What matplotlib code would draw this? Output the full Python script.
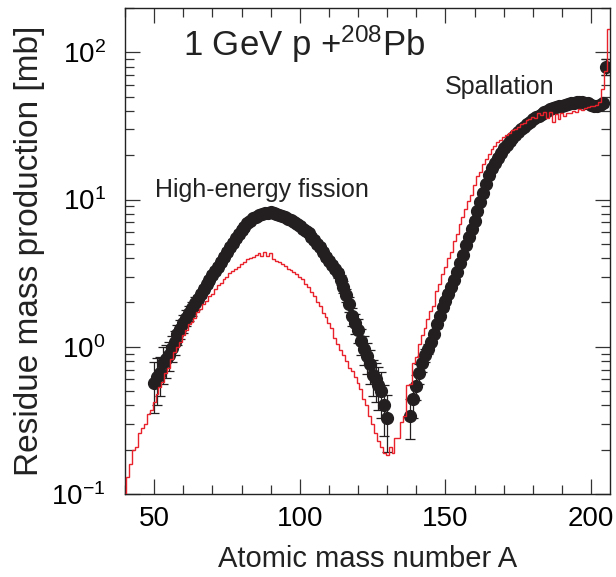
# -*- coding: utf-8 -*-
"""
Residue mass distribution, 1 GeV p + 208Pb
"""

import numpy as np
import matplotlib
matplotlib.use("Agg")
import matplotlib.pyplot as plt
from matplotlib.ticker import LogLocator, MultipleLocator, NullFormatter

plt.rcParams["font.family"] = ["Liberation Sans", "DejaVu Sans"]
plt.rcParams["mathtext.fontset"] = "custom"
plt.rcParams["mathtext.rm"] = "Liberation Sans"
plt.rcParams["mathtext.it"] = "Liberation Sans:italic"

# Model (red histogram), one bin per mass number, A = 40 ... 206
model_A0 = 40
model_y = [0.10, 0.13, 0.16, 0.20, 0.21, 0.26, 0.28, 0.30, 0.35, 0.37,
           0.42, 0.48, 0.53, 0.58, 0.66, 0.72, 0.83, 0.92, 1.00, 1.08,
           1.20, 1.30, 1.42, 1.48, 1.58, 1.72, 1.80, 1.95, 2.05, 2.20,
           2.30, 2.45, 2.62, 2.72, 2.90, 3.00, 3.15, 3.25, 3.40, 3.50,
           3.65, 3.75, 3.95, 4.00, 4.10, 4.20, 4.35, 4.15, 4.40, 4.15,
           4.35, 3.95, 3.85, 3.75, 3.65, 3.55, 3.40, 3.30, 3.20, 3.10,
           3.00, 2.90, 2.65, 2.55, 2.35, 2.20, 2.00, 1.90, 1.70, 1.60,
           1.45, 1.35, 1.15, 1.05, 0.95, 0.88, 0.80, 0.72, 0.68, 0.62,
           0.57, 0.52, 0.44, 0.40, 0.34, 0.30, 0.26, 0.23, 0.21, 0.19,
           0.185, 0.21, 0.19, 0.24, 0.24, 0.31, 0.34, 0.55, 0.56, 0.78,
           0.85, 1.05, 1.20, 1.35, 1.55, 1.75, 1.90, 2.40, 2.65, 3.10,
           3.50, 4.00, 4.40, 5.20, 5.80, 6.80, 7.60, 8.60, 9.80, 10.8,
           12.5, 14.5, 15.5, 17.5, 18.8, 20.5, 22.0, 23.2, 24.5, 25.5,
           26.5, 27.5, 28.5, 29.5, 30.0, 31.0, 32.5, 33.0, 34.5, 35.0,
           36.5, 36.0, 38.5, 37.5, 39.5, 36.0, 39.5, 33.5, 38.0, 35.0,
           38.5, 37.0, 38.5, 39.0, 40.0, 39.5, 41.0, 40.5, 42.0, 42.5,
           43.0, 43.5, 44.0, 46.0, 56.0, 75.0, 145.0]

# Data, fission region A = 50 ... 130
fis_A0 = 50
fis_y = [0.57, 0.62, 0.66, 0.78, 0.82, 0.88, 0.98, 1.08, 1.22, 1.32,
         1.45, 1.58, 1.70, 1.82, 1.97, 2.12, 2.28, 2.47, 2.65, 2.85,
         3.08, 3.28, 3.50, 3.78, 4.08, 4.40, 4.75, 5.10, 5.45, 5.85,
         6.20, 6.55, 6.90, 7.20, 7.45, 7.62, 7.80, 7.95, 8.05, 8.15,
         8.20, 8.10, 8.00, 7.90, 7.75, 7.60, 7.40, 7.25, 7.05, 6.85,
         6.60, 6.35, 6.10, 5.90, 5.60, 5.30, 5.00, 4.75, 4.40, 4.10,
         3.85, 3.60, 3.35, 3.15, 2.85, 2.55, 2.25, 1.95, 1.62, 1.45,
         1.30, 1.10, 0.97, 0.86, 0.76, 0.64, 0.60, 0.55, 0.50, 0.40,
         0.33]
fis_err = [0.38, 0.35, 0.30, 0.28, 0.25, 0.22, 0.20, 0.18, 0.16, 0.15,
           0.14, 0.13, 0.12, 0.11, 0.10, 0.06, 0.06, 0.06, 0.06, 0.06,
           0.06, 0.06, 0.06, 0.06, 0.06, 0.06, 0.06, 0.06, 0.06, 0.06,
           0.06, 0.06, 0.06, 0.06, 0.06, 0.06, 0.06, 0.06, 0.06, 0.06,
           0.06, 0.06, 0.06, 0.06, 0.06, 0.06, 0.06, 0.06, 0.06, 0.06,
           0.06, 0.06, 0.06, 0.06, 0.06, 0.06, 0.06, 0.06, 0.06, 0.06,
           0.06, 0.06, 0.06, 0.07, 0.08, 0.09, 0.10, 0.12, 0.14, 0.16,
           0.18, 0.20, 0.22, 0.24, 0.26, 0.28, 0.30, 0.32, 0.34, 0.38,
           0.42]

# Data, spallation region A = 138 ... 205
spa_A0 = 138
spa_y = [0.34, 0.44, 0.54, 0.66, 0.77, 0.88, 0.97, 1.08, 1.23, 1.42,
         1.62, 1.85, 2.05, 2.30, 2.55, 2.85, 3.20, 3.70, 4.20, 4.90,
         5.55, 6.30, 7.20, 8.30, 9.60, 11.0, 12.8, 14.6, 16.3, 17.8,
         19.3, 20.8, 22.3, 23.6, 24.8, 26.0, 27.3, 28.6, 30.0, 31.2,
         32.5, 33.8, 35.0, 36.2, 37.2, 38.2, 39.2, 40.2, 41.0, 41.8,
         42.5, 43.0, 43.5, 44.0, 44.5, 45.0, 45.5, 46.0, 46.2, 46.0,
         45.5, 45.0, 44.0, 43.5, 43.5, 44.0, 45.0, 80.0]
spa_err = [0.30, 0.25, 0.20, 0.15, 0.12, 0.10, 0.08] + [0.05] * 60 + [0.12]

model_edges = np.arange(len(model_y) + 1) + model_A0 - 0.5
fis_A = np.arange(len(fis_y)) + fis_A0
spa_A = np.arange(len(spa_y)) + spa_A0

fig = plt.figure(figsize=(6.16, 5.77), dpi=100)
ax = fig.add_axes([125 / 616, 83 / 577, 485 / 616, 486 / 577])

ax.stairs(model_y, model_edges, baseline=None, color="#e8212b", lw=1.0, zorder=3)

dot = "#231f20"
for A, y, e in [(fis_A, fis_y, fis_err), (spa_A, spa_y, spa_err)]:
    y = np.array(y)
    ax.errorbar(A, y, yerr=np.array(e) * y, fmt="o", ms=8.5, color=dot,
                ecolor=dot, elinewidth=0.9, capsize=3.5, capthick=0.9, zorder=2)

ax.set_yscale("log")
ax.set_xlim(40, 206.5)
ax.set_ylim(0.1, 200)

ax.xaxis.set_major_locator(MultipleLocator(50))
ax.xaxis.set_minor_locator(MultipleLocator(10))
ax.yaxis.set_major_locator(LogLocator(base=10))
ax.yaxis.set_minor_locator(LogLocator(base=10, subs=np.arange(2, 10)))
ax.yaxis.set_minor_formatter(NullFormatter())
ax.set_yticks([0.1, 1, 10, 100])
ax.set_yticklabels([r"$\mathregular{10^{-1}}$", r"$\mathregular{10^{0}}$",
                    r"$\mathregular{10^{1}}$", r"$\mathregular{10^{2}}$"])

ax.tick_params(which="both", direction="in", top=True, right=True,
               color="#333333", width=0.9)
ax.tick_params(which="major", length=11, labelsize=20)
ax.tick_params(axis="x", which="major", pad=9)
ax.tick_params(axis="y", which="major", pad=14)
ax.tick_params(which="minor", length=6.5)
for s in ax.spines.values():
    s.set_linewidth(1.0)
    s.set_color("#222222")

ax.set_xlabel("Atomic mass number A", fontsize=21, color="#222222")
ax.set_ylabel("Residue mass production [mb]", fontsize=24, color="#222222")
ax.xaxis.set_label_coords(0.5, -0.105)
ax.yaxis.set_label_coords(-0.165, 0.5)

ax.text(59.8, 114, r"1 GeV p +$\mathregular{^{208}}$Pb", fontsize=25,
        va="center", ha="left", color="#222222")
ax.text(149.7, 58, "Spallation", fontsize=18, va="center", ha="left",
        color="#222222")
ax.text(50.2, 11.7, "High-energy fission", fontsize=18, va="center",
        ha="left", color="#222222")

fig.savefig("out.png", dpi=100)
